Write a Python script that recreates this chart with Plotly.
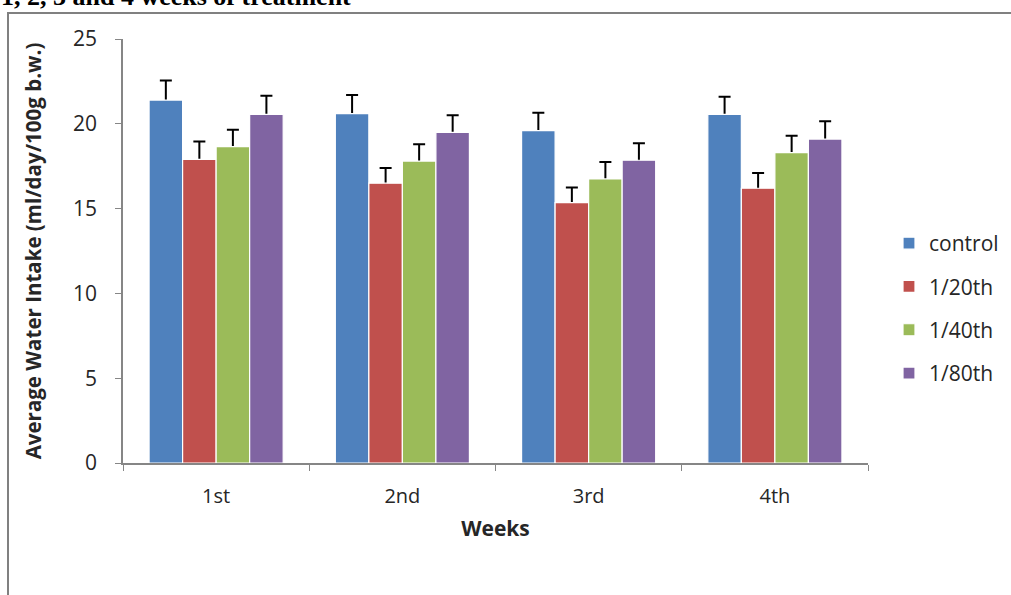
import plotly.graph_objects as go

# Weekly water intake (ml/day/100g b.w.) per treatment group
weeks = ["1st", "2nd", "3rd", "4th"]
control = [21.4, 20.6, 19.6, 20.55]
dose_20 = [17.9, 16.5, 15.35, 16.2]
dose_40 = [18.65, 17.8, 16.75, 18.3]
dose_80 = [20.55, 19.5, 17.85, 19.1]

# Standard errors (upper whisker only)
err_control = [1.15, 1.1, 1.05, 1.05]
err_20 = [1.05, 0.9, 0.9, 0.9]
err_40 = [1.0, 1.0, 1.0, 1.0]
err_80 = [1.1, 1.0, 1.0, 1.05]

series = [
    ("control", control, err_control, "#4F81BD"),
    ("1/20th", dose_20, err_20, "#C0504D"),
    ("1/40th", dose_40, err_40, "#9BBB59"),
    ("1/80th", dose_80, err_80, "#8064A2"),
]

FONT = "Open Sans, Noto Sans, sans-serif"
TXT = "#262626"

fig = go.Figure()
for name, vals, errs, color in series:
    # Whiskers go on a transparent twin drawn first, so the solid bar
    # laid over it hides the lower cap and only the "T" above shows.
    fig.add_trace(go.Bar(
        x=weeks, y=vals, offsetgroup=name, showlegend=False, hoverinfo="skip",
        marker=dict(color="rgba(0,0,0,0)", line=dict(width=0)),
        error_y=dict(type="data", array=errs, symmetric=False,
                     arrayminus=[0.15] * len(errs),
                     color="black", thickness=2, width=6),
    ))
    fig.add_trace(go.Bar(
        name=name, x=weeks, y=vals, offsetgroup=name, legendgroup=name,
        marker=dict(color=color, line=dict(color="white", width=1.2)),
    ))

L, R, T, B = 123, 143, 39, 132
PW, PH = 1011 - L - R, 595 - T - B


def px_x(px):
    return (px - L) / PW


def px_y(py):
    return (595 - B - py) / PH


fig.update_layout(
    width=1011, height=595,
    margin=dict(l=L, r=R, t=T, b=B, pad=0, autoexpand=False),
    paper_bgcolor="white", plot_bgcolor="white",
    barmode="group", bargap=0.28, bargroupgap=0.0,
    font=dict(family=FONT, size=21, color=TXT),
    showlegend=True,
    legend=dict(x=px_x(889), y=px_y(223), xanchor="left", yanchor="top",
                font=dict(family=FONT, size=21, color=TXT),
                tracegroupgap=13, itemwidth=30, bgcolor="rgba(0,0,0,0)"),
    xaxis=dict(
        title=dict(text="<b>Weeks</b>", font=dict(family=FONT, size=21, color=TXT),
                   standoff=14),
        showline=True, linecolor="#868686", linewidth=1.5,
        ticks="outside", tickson="boundaries", ticklen=6, tickcolor="#868686",
        ticklabelstandoff=14,
        tickfont=dict(family=FONT, size=20, color=TXT),
        showgrid=False, zeroline=False,
    ),
    yaxis=dict(
        title=dict(text="<b>Average Water Intake (ml/day/100g b.w.)</b>",
                   font=dict(family=FONT, size=20.5, color=TXT), standoff=26),
        range=[0, 25], dtick=5, tick0=0,
        showline=True, linecolor="#868686", linewidth=1.5,
        ticks="outside", ticklen=6, tickcolor="#868686",
        ticklabelstandoff=14,
        tickfont=dict(family=FONT, size=21, color=TXT),
        showgrid=False, zeroline=False,
    ),
)

# Outer frame around the chart area
fig.add_shape(type="rect", xref="paper", yref="paper",
              x0=px_x(8), x1=px_x(1030), y0=px_y(620), y1=px_y(13),
              line=dict(color="#808080", width=2), fillcolor="rgba(0,0,0,0)",
              layer="below")

# Caption line running above the frame
fig.add_annotation(text="<b>1, 2, 3 and 4 weeks of treatment</b>",
                   xref="paper", yref="paper", x=px_x(-1), y=px_y(-3),
                   xanchor="left", yanchor="middle", showarrow=False,
                   font=dict(family="Liberation Serif, Times New Roman, serif",
                             size=26, color="black"))

fig.write_html("out.html")
